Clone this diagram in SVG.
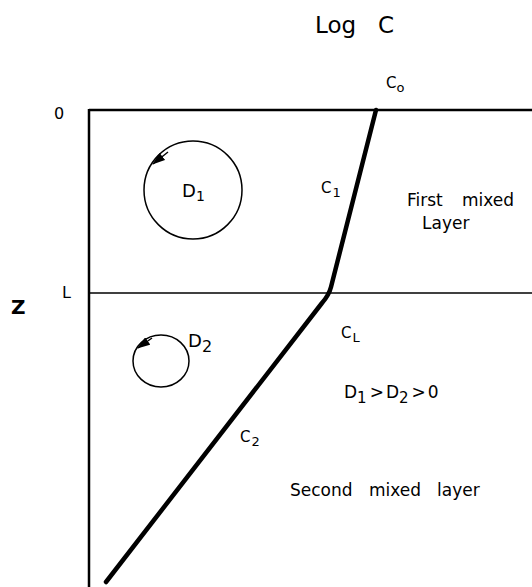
<svg xmlns="http://www.w3.org/2000/svg" width="532" height="587" viewBox="0 0 532 587">
<style>
text{font-family:"DejaVu Sans","Liberation Sans",sans-serif;fill:#000}
.lab{font-size:15px}
.sub{font-size:13px}
.big{font-size:17px}
.axis{stroke:#000;fill:none}
.eddy{stroke:#000;stroke-width:1.5;fill:none}
</style>
<defs>
<marker id="ah" viewBox="0 0 13 9" refX="12" refY="4.5" markerWidth="13" markerHeight="9" markerUnits="userSpaceOnUse" orient="auto">
<path d="M0,0 L13,4.5 L0,9 z" fill="#000"/>
</marker>
</defs>
<g id="axes">
<line class="axis" x1="89" y1="110" x2="532" y2="110" stroke-width="2.5"/>
<line class="axis" x1="89" y1="109" x2="89" y2="587" stroke-width="2.5"/>
<line class="axis" x1="89" y1="293" x2="532" y2="293" stroke-width="1.5"/>
</g>
<g id="labels">
<text x="315" y="33" font-size="23">Log</text>
<text x="378" y="33" font-size="23">C</text>
<text x="54" y="119" font-size="16">0</text>
<text x="62" y="298" font-size="16">L</text>
<text x="11" y="314" font-size="20" font-weight="bold">Z</text>
<text x="386" y="88" class="lab">C<tspan class="sub" dy="4">o</tspan></text>
<text x="321" y="193" class="lab">C<tspan class="sub" dx="1" dy="4">1</tspan></text>
<text x="341" y="338" class="lab">C<tspan class="sub" dx="1" dy="4">L</tspan></text>
<text x="240" y="442" class="lab">C<tspan class="sub" dx="1" dy="4">2</tspan></text>
<text x="407" y="206" class="big">First</text>
<text x="462" y="206" class="big">mixed</text>
<text x="422" y="229" class="big">Layer</text>
<text x="344" y="398" class="big">D<tspan font-size="15" dy="5">1</tspan><tspan dx="3" dy="-5">&gt;</tspan><tspan dx="2">D</tspan><tspan font-size="15" dy="5">2</tspan><tspan dx="3" dy="-5">&gt;</tspan><tspan dx="2">0</tspan></text>
<text x="290" y="496" class="big">Second</text>
<text x="369" y="496" class="big">mixed</text>
<text x="437" y="496" class="big">layer</text>
</g>
<g id="eddy1">
<circle class="eddy" cx="193" cy="190" r="49"/>
<path class="eddy" d="M168,152 L153,164" marker-end="url(#ah)" stroke-width="1"/>
<text x="182" y="197" font-size="18">D<tspan font-size="14" dy="4">1</tspan></text>
</g>
<g id="eddy2">
<ellipse class="eddy" cx="161" cy="361" rx="28" ry="26"/>
<path class="eddy" d="M152,338 L138,348" marker-end="url(#ah)" stroke-width="1"/>
<text x="188" y="347" font-size="18">D<tspan font-size="16" dy="5">2</tspan></text>
</g>
<g id="profile">
<path d="M376,110 L331,287 Q329,295 322,303 L106,582" stroke="#000" stroke-width="4.5" fill="none" stroke-linecap="round" stroke-linejoin="round"/>
</g>
</svg>
